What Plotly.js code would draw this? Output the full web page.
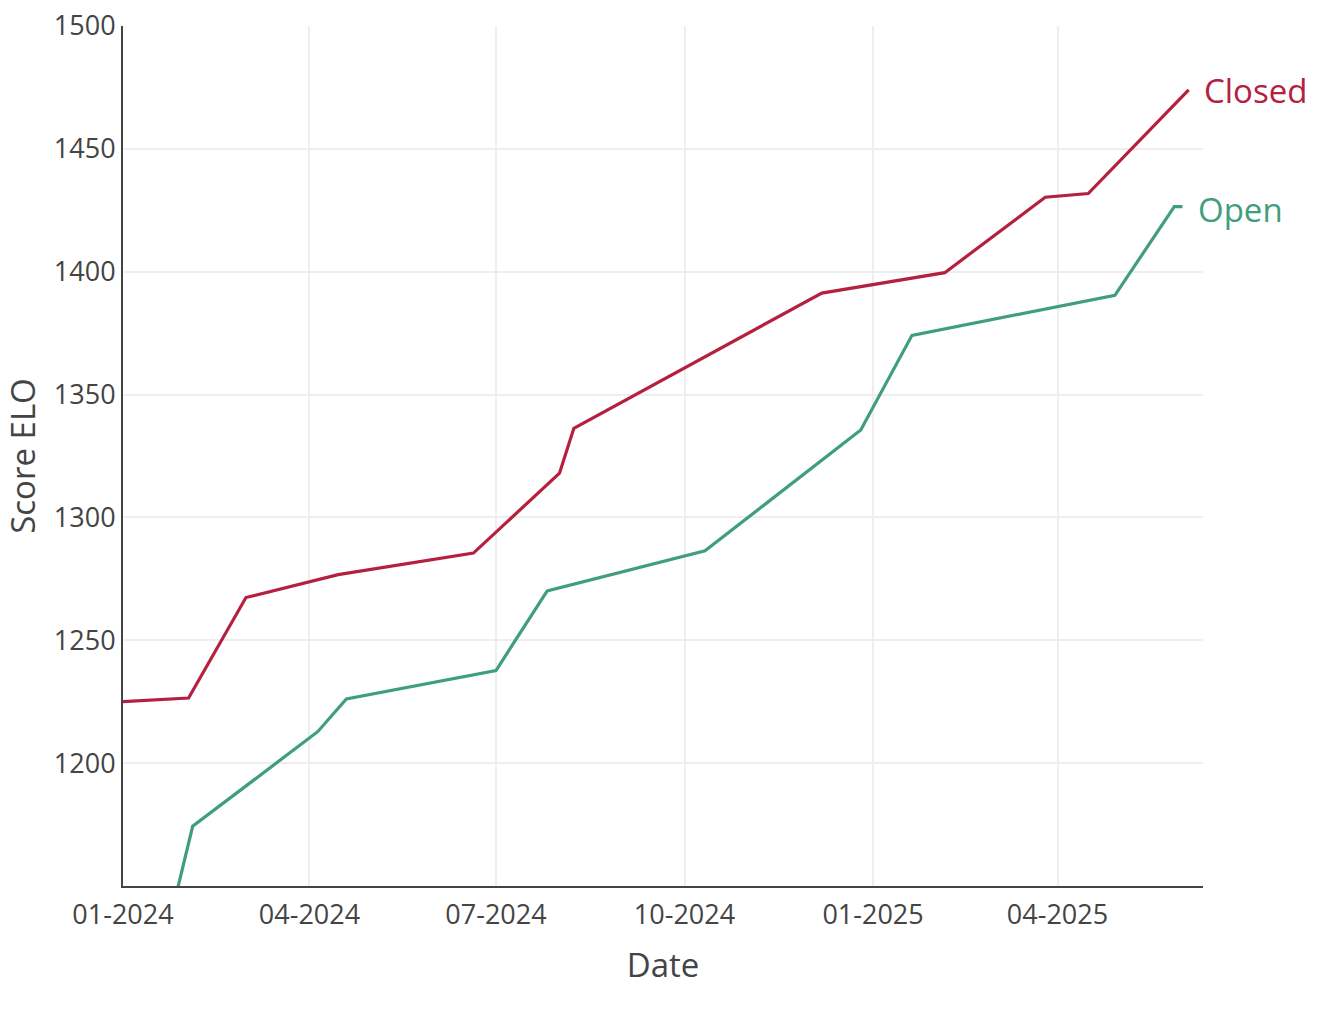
<!DOCTYPE html>
<html>
<head>
<meta charset="utf-8">
<script src="https://cdn.plot.ly/plotly-3.0.1.min.js"></script>
<style>html,body{margin:0;padding:0;background:#fff;}#chart{width:1334px;height:1014px;}</style>
</head>
<body>
<div id="chart"></div>
<script>
const closedDates = ['2024-01-01','2024-02-02','2024-03-01','2024-04-15','2024-06-20','2024-08-01','2024-08-08','2024-12-07','2025-02-05','2025-03-26','2025-04-16','2025-06-04'];
const closedElo = [1225, 1226.5, 1267.4, 1276.7, 1285.5, 1318, 1336.3, 1391.3, 1399.6, 1430.3, 1431.8, 1474];
const openDates = ['2024-01-01','2024-02-04','2024-04-05','2024-04-19','2024-07-01','2024-07-26','2024-10-11','2024-12-26','2025-01-20','2025-04-29','2025-05-28','2025-06-01'];
const openElo = [1057, 1174.3, 1212.8, 1226.1, 1237.7, 1270.1, 1286.4, 1335.6, 1374.1, 1390.4, 1426.5, 1426.5];
const seriesNames = ['Closed', 'Open'];
const seriesColors = ['#b5203f', '#3f9e7b'];
const yTickVals = [1200, 1250, 1300, 1350, 1400, 1450, 1500];

const traces = [
  {x: closedDates, y: closedElo, mode: 'lines', name: seriesNames[0], line: {color: seriesColors[0], width: 3.2}},
  {x: openDates, y: openElo, mode: 'lines', name: seriesNames[1], line: {color: seriesColors[1], width: 3.2}}
];

const annotations = [
  {x: closedDates[closedDates.length-1], y: closedElo[closedElo.length-1], text: seriesNames[0], showarrow: false, xanchor: 'left', yanchor: 'middle', xshift: 13, yshift: -1, font: {size: 33, color: seriesColors[0], family: 'Open Sans'}},
  {x: openDates[openDates.length-1], y: openElo[openElo.length-1], text: seriesNames[1], showarrow: false, xanchor: 'left', yanchor: 'middle', xshift: 13, yshift: -3, font: {size: 33, color: seriesColors[1], family: 'Open Sans'}}
];

const layout = {
  width: 1334, height: 1014,
  margin: {l: 123, r: 131, t: 26, b: 128},
  showlegend: false,
  paper_bgcolor: '#fff', plot_bgcolor: '#fff',
  font: {family: 'Open Sans', color: '#444', size: 27},
  xaxis: {
    type: 'date',
    range: ['2024-01-01', '2025-06-11'],
    dtick: 'M3', tick0: '2024-01-01',
    tickformat: '%m-%Y',
    showgrid: true, gridcolor: '#eeeeee', gridwidth: 2,
    showline: true, linecolor: '#444', linewidth: 2,
    zeroline: false, ticks: '',
    ticklabelstandoff: 4,
    tickfont: {size: 27},
    title: {text: 'Date', font: {size: 33}, standoff: 22}
  },
  yaxis: {
    range: [1150, 1500],
    tickvals: yTickVals,
    showgrid: true, gridcolor: '#eeeeee', gridwidth: 2,
    showline: true, linecolor: '#444', linewidth: 2,
    zeroline: false, ticks: '',
    tickfont: {size: 27},
    title: {text: 'Score ELO', font: {size: 33}, standoff: 14}
  },
  annotations: annotations
};

Plotly.newPlot('chart', traces, layout, {displayModeBar: false, staticPlot: true});
</script>
</body>
</html>
